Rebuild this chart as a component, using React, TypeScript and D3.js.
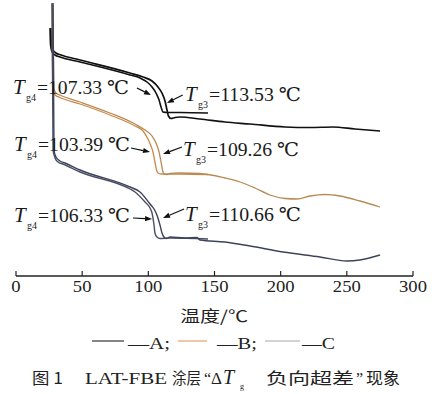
import React from 'react';
import * as d3 from 'd3';

// x axis ticks (temperature, °C)
const xTicks = [0, 50, 100, 150, 200, 250, 300];

// DSC curves: [temperature °C, heat flow (arbitrary units)]
// A: first scan (Tg4) and second scan (Tg3)
const curveA1: [number, number][] = [
  [25.7, 24.8], [26.1, 23.1], [27.2, 22.4], [29.5, 22.1], [33.2, 21.9], [48.4, 21.4],
  [86.1, 20.1], [93.7, 19.8], [99.0, 19.4], [102.8, 18.9], [105.8, 18.3], [108.1, 17.6],
  [109.6, 16.9], [111.1, 16.4], [114.1, 16.35], [123.9, 16.35], [145.1, 16.3],
];
const curveA2: [number, number][] = [
  [26.4, 24.8], [26.8, 23.1], [28.0, 22.6], [30.2, 22.3], [34.0, 22.1], [48.4, 21.6],
  [86.1, 20.3], [96.0, 19.9], [102.8, 19.5], [107.3, 18.9], [110.3, 18.3], [112.6, 17.5],
  [114.1, 16.6], [115.2, 16.0], [117.1, 15.75], [120.2, 15.85], [123.9, 15.9], [139.0, 15.7],
  [157.9, 15.4], [176.8, 15.2], [203.3, 14.9], [222.2, 14.85], [239.5, 14.9], [256.2, 14.7],
  [275.1, 14.5],
];
// B
const curveB1: [number, number][] = [
  [27.2, 27.2], [27.6, 21.6], [28.0, 18.6], [29.5, 18.1], [33.2, 17.85], [48.4, 17.2],
  [71.0, 16.1], [89.9, 15.0], [96.0, 14.5], [99.7, 13.7], [102.0, 13.0], [103.5, 12.4],
  [105.0, 11.4], [106.2, 10.6], [107.3, 10.3], [109.6, 10.2], [123.9, 10.2], [145.1, 10.15],
];
const curveB2: [number, number][] = [
  [28.0, 27.1], [28.3, 21.6], [28.7, 18.7], [30.2, 18.3], [34.0, 18.05], [48.4, 17.4],
  [71.0, 16.3], [89.9, 15.2], [97.5, 14.6], [102.8, 14.0], [105.8, 13.3], [108.1, 12.4],
  [109.6, 11.4], [110.7, 10.6], [111.8, 10.2], [114.1, 10.15], [116.4, 10.25], [123.9, 10.3],
  [139.0, 10.25], [157.9, 9.8], [169.3, 9.4], [180.6, 8.8], [191.9, 8.1], [203.3, 7.75],
  [212.3, 7.7], [222.2, 8.0], [233.5, 8.15], [244.8, 8.0], [259.9, 7.5], [275.1, 6.9],
];
// C
const curveC1: [number, number][] = [
  [27.2, 27.3], [28.0, 12.6], [29.5, 11.8], [31.7, 11.4], [35.5, 11.2], [48.4, 10.4],
  [86.1, 8.7], [89.9, 8.4], [97.5, 7.4], [101.3, 6.8], [102.8, 6.3], [104.3, 5.1],
  [105.0, 4.3], [106.5, 3.9], [108.8, 3.75], [116.4, 3.8], [145.1, 3.7],
];
const curveC2: [number, number][] = [
  [28.0, 27.3], [28.7, 12.6], [30.2, 11.9], [33.2, 11.5], [37.0, 11.3], [48.4, 10.6],
  [86.1, 8.9], [93.7, 8.4], [101.3, 7.2], [104.3, 6.7], [106.5, 6.1], [108.8, 5.1],
  [110.3, 4.3], [111.8, 3.9], [113.4, 3.75], [116.4, 3.9], [127.7, 3.8], [136.8, 3.85],
  [139.0, 3.6], [157.9, 3.4], [176.8, 3.0], [201.8, 2.4], [229.7, 1.9], [250.1, 1.5],
  [259.9, 1.6], [275.1, 2.1],
];

// Tg annotations: label anchor, arrow tail and arrow tip in data units
const tgNames = ['g4', 'g3', 'g4', 'g3', 'g4', 'g3'];
const tgValues = ['107.33', '113.53', '103.39', '109.26', '106.33', '110.66'];
const tgLabelAt: [number, number][] = [
  [-2.3, 18.2], [127.7, 17.5], [-1.5, 12.5], [126.2, 12.0], [-1.5, 5.4], [127.7, 5.5],
];
const tgArrowFrom: [number, number][] = [
  [91.4, 18.8], [126.0, 18.1], [86.9, 12.8], [125.4, 12.9], [88.4, 5.8], [127.0, 6.7],
];
const tgArrowTo: [number, number][] = [
  [102.0, 18.1], [114.1, 17.3], [101.3, 12.4], [111.1, 12.2], [102.8, 5.7], [111.1, 5.8],
];

const legendNames = ['A', 'B', 'C'];

const W = 437;
const H = 394;
const serif = '"Liberation Serif", "DejaVu Serif", serif';
const cjk = '"Noto Sans CJK SC", "Noto Sans", sans-serif';

export default function App() {
  const x = d3.scaleLinear().domain([0, 300]).range([16, 413]);
  const y = d3.scaleLinear().domain([0, 27.6]).range([276, 0]);
  const line = d3
    .line<[number, number]>()
    .x((d) => x(d[0]))
    .y((d) => y(d[1]))
    .curve(d3.curveMonotoneX);

  const curves = [
    { d: curveA1, color: '#111111', w: 1.6 },
    { d: curveA2, color: '#111111', w: 1.7 },
    { d: curveB1, color: '#c98a4a', w: 1.3 },
    { d: curveB2, color: '#b98a55', w: 1.3 },
    { d: curveC1, color: '#4a4f66', w: 1.4 },
    { d: curveC2, color: '#3e4358', w: 1.4 },
  ];

  const legendColors = ['#333333', '#e2a468', '#a8a8b0'];
  const legendLineX: [number, number][] = [[92, 124], [178, 207], [265, 300]];
  const legendTextX = [128, 217, 302];
  const legendTextLen = [42, 40, 33];

  const axisY = y(0);

  return (
    <svg
      width={W}
      height={H}
      style={{ position: 'absolute', left: 0, top: 0, background: '#fff' }}
    >
      <rect width={W} height={H} fill="#fff" />
      {/* curves */}
      {curves.map((c, i) => (
        <path key={i} d={line(c.d) || ''} fill="none" stroke={c.color} strokeWidth={c.w} strokeLinejoin="round" />
      ))}

      {/* x axis */}
      <line x1={x(0)} x2={x(300)} y1={axisY} y2={axisY} stroke="#222" strokeWidth={1.3} />
      {xTicks.map((t) => (
        <g key={t}>
          <line x1={x(t)} x2={x(t)} y1={axisY} y2={axisY - 5} stroke="#222" strokeWidth={1.2} />
          <text
            x={x(t)}
            y={axisY + 16}
            textAnchor="middle"
            fontFamily={serif}
            fontSize={16}
            fill="#222"
            textLength={String(t).length * 9.3}
            lengthAdjust="spacingAndGlyphs"
          >
            {t}
          </text>
        </g>
      ))}
      <text x={180} y={322} fontFamily={cjk} fontSize={16} fill="#222" textLength={68} lengthAdjust="spacingAndGlyphs">
        温度/℃
      </text>

      {/* Tg annotations */}
      {tgValues.map((v, i) => {
        const lx = x(tgLabelAt[i][0]);
        const ly = y(tgLabelAt[i][1]);
        const fx = x(tgArrowFrom[i][0]);
        const fy = y(tgArrowFrom[i][1]);
        const tx = x(tgArrowTo[i][0]);
        const ty = y(tgArrowTo[i][1]);
        const ang = Math.atan2(ty - fy, tx - fx);
        const L = 7;
        const hw = 2.6;
        const bx = tx - L * Math.cos(ang);
        const by = ty - L * Math.sin(ang);
        const px = -Math.sin(ang) * hw;
        const py = Math.cos(ang) * hw;
        return (
          <g key={i}>
            <text x={lx} y={ly} fontFamily={serif} fontStyle="italic" fontSize={21} fill="#1a1a1a">
              T
            </text>
            <text x={lx + 13} y={ly + 7} fontFamily={serif} fontSize={10} fill="#1a1a1a">
              {tgNames[i]}
            </text>
            <text
              x={lx + 24}
              y={ly}
              fontFamily={serif}
              fontSize={19}
              fill="#1a1a1a"
              textLength={92}
              lengthAdjust="spacingAndGlyphs"
            >
              {'=' + v + ' ℃'}
            </text>
            <line x1={fx} y1={fy} x2={bx} y2={by} stroke="#111" strokeWidth={1.2} />
            <polygon
              points={`${tx},${ty} ${bx + px},${by + py} ${bx - px},${by - py}`}
              fill="#111"
            />
          </g>
        );
      })}

      {/* legend */}
      {legendNames.map((n, i) => (
        <g key={n}>
          <line
            x1={legendLineX[i][0]}
            x2={legendLineX[i][1]}
            y1={341}
            y2={341}
            stroke={legendColors[i]}
            strokeWidth={1.2}
          />
          <text
            x={legendTextX[i]}
            y={349}
            fontFamily={serif}
            fontSize={17}
            fill="#222"
            textLength={legendTextLen[i]}
            lengthAdjust="spacingAndGlyphs"
          >
            {'—' + n + (i < 2 ? ';' : '')}
          </text>
        </g>
      ))}

      {/* caption */}
      <g fill="#222">
        <text x={32} y={384} fontFamily={cjk} fontSize={16} textLength={31} lengthAdjust="spacingAndGlyphs">
          图 1
        </text>
        <text x={85} y={384} fontFamily={serif} fontSize={16} textLength={82} lengthAdjust="spacingAndGlyphs">
          LAT-FBE
        </text>
        <text x={172} y={384} fontFamily={cjk} fontSize={16} textLength={29} lengthAdjust="spacingAndGlyphs">
          涂层
        </text>
        <text x={204} y={384} fontFamily={serif} fontSize={16}>
          “
        </text>
        <text x={211} y={384} fontFamily={serif} fontSize={17}>
          Δ
        </text>
        <text x={223} y={384} fontFamily={serif} fontStyle="italic" fontSize={20}>
          T
        </text>
        <text x={240} y={389} fontFamily={serif} fontSize={8}>
          g
        </text>
        <text x={266} y={384} fontFamily={cjk} fontSize={16} textLength={88} lengthAdjust="spacingAndGlyphs">
          负向超差
        </text>
        <text x={356} y={384} fontFamily={serif} fontSize={16}>
          ”
        </text>
        <text x={366} y={384} fontFamily={cjk} fontSize={16} textLength={34} lengthAdjust="spacingAndGlyphs">
          现象
        </text>
      </g>
    </svg>
  );
}
